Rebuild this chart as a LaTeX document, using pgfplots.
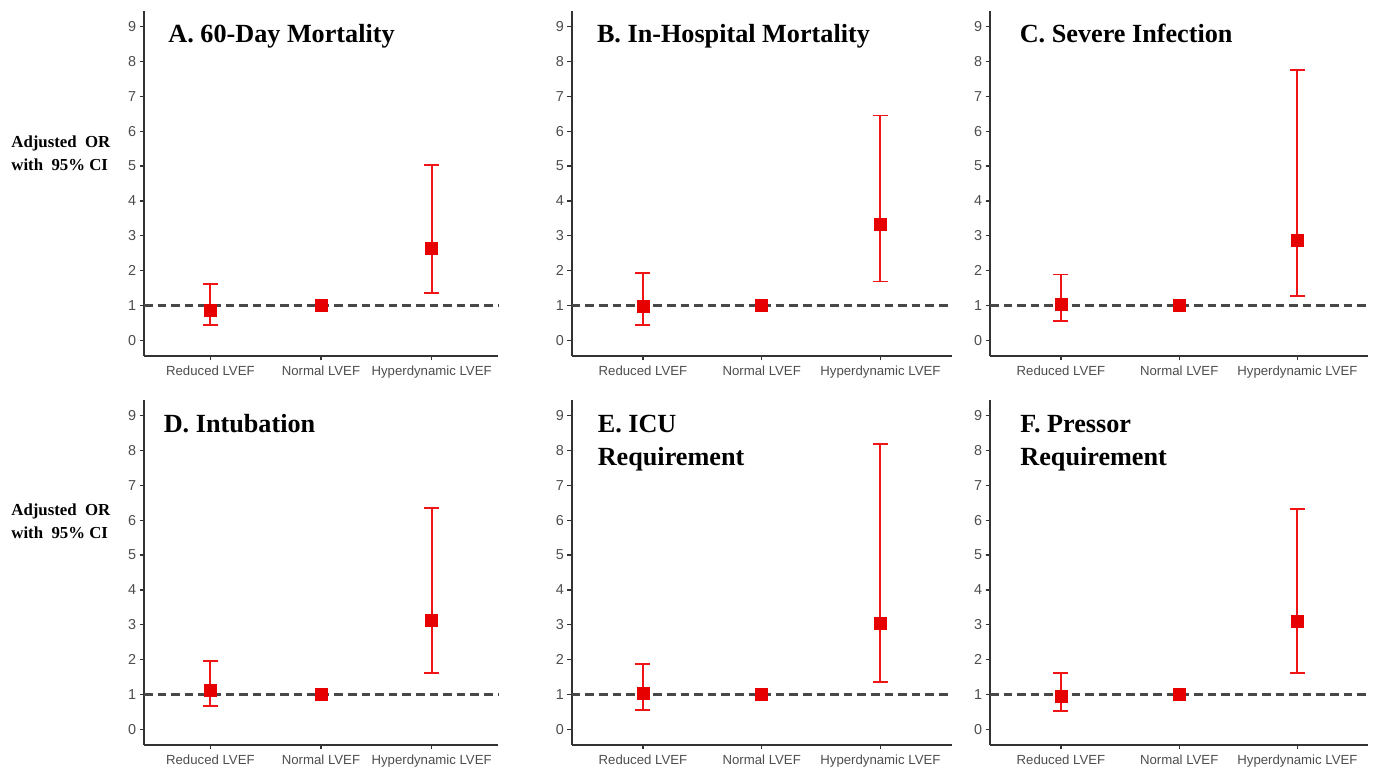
\documentclass[border=0pt]{standalone}
\usepackage{fontspec}
\setmainfont{Liberation Serif}
\newfontfamily\arialf{Liberation Sans}
\usepackage{pgfplots}
\pgfplotsset{compat=1.18}

\definecolor{axcol}{RGB}{51,51,51}
\definecolor{tickcol}{RGB}{77,77,77}
\definecolor{dashcol}{RGB}{72,72,72}
\definecolor{ebred}{RGB}{240,20,20}
\definecolor{sqred}{RGB}{230,0,0}

\pgfplotsset{
  panel/.style={
    scale only axis,
    anchor=south west,
    height=172.5pt,
    axis lines=left,
    axis line style={-, line width=0.8pt, color=axcol},
    xmin=0.4, xmax=3.6, ymin=-0.45, ymax=9.45,
    xtick={1,2,3},
    xticklabels={Reduced LVEF, Normal LVEF, Hyperdynamic LVEF},
    ytick={0,1,...,9},
    tick align=outside,
    major tick length=2.2pt,
    tick style={line width=0.6pt, color=axcol},
    /pgf/number format/assume math mode=true,
    yticklabel style={font=\arialf\fontsize{7.2}{8}\selectfont, text=tickcol, inner sep=1.5pt},
    xticklabel style={font=\arialf\fontsize{6.6}{8}\selectfont, text=tickcol, inner sep=2.5pt},
    clip=false,
  },
  ciline/.style={color=ebred, line width=1pt, solid, mark=-, mark size=3.75pt,
    mark options={color=ebred, line width=0.85pt, solid}},
  sq/.style={only marks, mark=square*, mark size=3pt, mark options={fill=sqred, draw=sqred, solid}},
  refline/.style={color=dashcol, line width=1.1pt, dash pattern=on 4.3pt off 2.5pt, mark=none},
}

% #1,#2,#3 = Reduced OR, lo, hi ; #4,#5,#6 = Hyperdynamic OR, lo, hi ; Normal LVEF = reference (OR 1)
\newcommand{\panel}[6]{%
  \addplot[refline] coordinates {(0.4,1) (3.6,1)};
  \addplot[ciline] coordinates {(1,#2) (1,#3)};
  \addplot[ciline] coordinates {(3,#5) (3,#6)};
  \addplot[sq] coordinates {(1,#1) (2,1) (3,#4)};
}

\begin{document}
\begin{tikzpicture}
\useasboundingbox (0,0) rectangle (689pt,386pt);

% top row
\begin{axis}[panel, at={(72pt,208pt)}, width=177pt]
\panel{0.86}{0.43}{1.62}{2.63}{1.36}{5.04}
\end{axis}
\begin{axis}[panel, at={(285.85pt,208pt)}, width=190pt]
\panel{0.97}{0.43}{1.93}{3.34}{1.69}{6.45}
\end{axis}
\begin{axis}[panel, at={(495pt,208pt)}, width=189.2pt]
\panel{1.03}{0.55}{1.89}{2.88}{1.27}{7.76}
\end{axis}

% bottom row
\begin{axis}[panel, at={(72pt,13.5pt)}, width=177pt]
\panel{1.12}{0.66}{1.96}{3.13}{1.62}{6.36}
\end{axis}
\begin{axis}[panel, at={(285.85pt,13.5pt)}, width=190pt]
\panel{1.02}{0.56}{1.88}{3.03}{1.35}{8.18}
\end{axis}
\begin{axis}[panel, at={(495pt,13.5pt)}, width=189.2pt]
\panel{0.95}{0.53}{1.62}{3.10}{1.62}{6.33}
\end{axis}

% panel titles
\begin{scope}[every node/.style={anchor=base west, inner sep=0pt, font=\bfseries\fontsize{13.1}{14}\selectfont}]
\node at (84pt,364.5pt) {A. 60-Day Mortality};
\node at (298.3pt,364.5pt) {B. In-Hospital Mortality};
\node at (509.7pt,364.5pt) {C. Severe Infection};
\node at (81.7pt,169.6pt) {D. Intubation};
\node at (298.7pt,169.6pt) {E. ICU};
\node at (298.7pt,153pt) {Requirement};
\node at (510pt,169.6pt) {F. Pressor};
\node at (510pt,153pt) {Requirement};
\end{scope}

% y axis labels
\begin{scope}[every node/.style={anchor=base west, inner sep=0pt, font=\bfseries\fontsize{8.4}{10}\selectfont}]
\node at (5.5pt,312.2pt) {Adjusted\ \ OR};
\node at (5.5pt,300.7pt) {with\ \ 95\% CI};
\node at (5.5pt,128pt) {Adjusted\ \ OR};
\node at (5.5pt,116.5pt) {with\ \ 95\% CI};
\end{scope}
\end{tikzpicture}
\end{document}
